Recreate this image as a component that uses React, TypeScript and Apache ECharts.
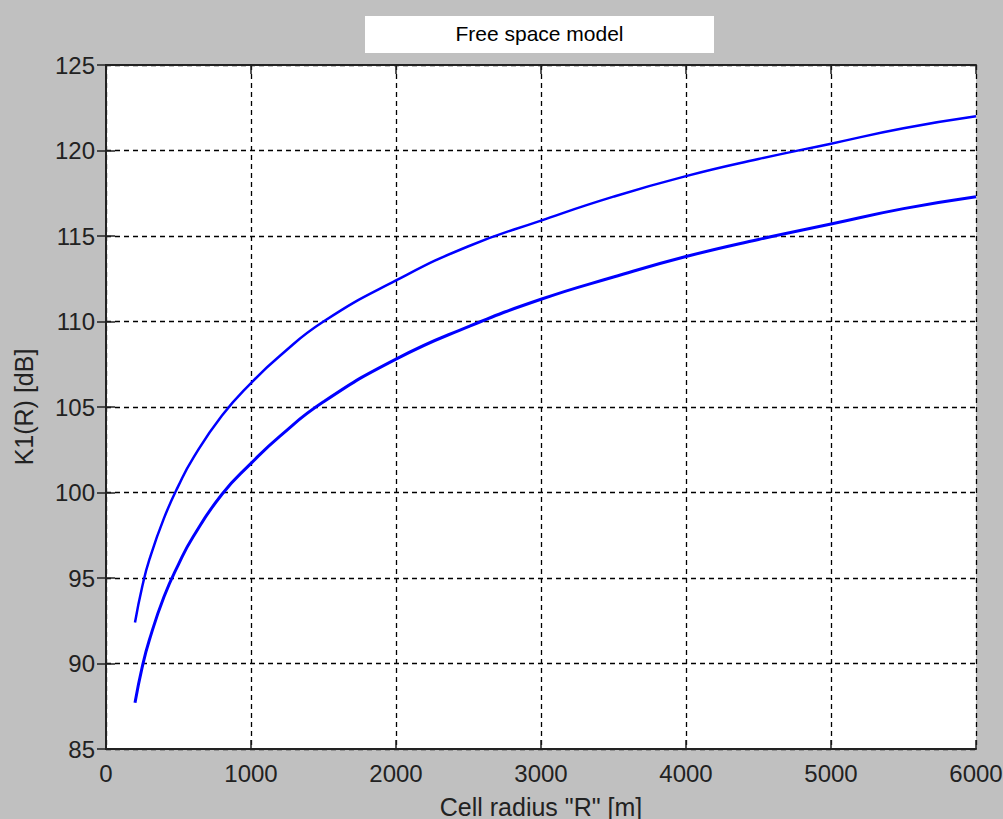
import React, { useEffect, useRef } from "react";
import * as echarts from "echarts";

const radius = [200, 250, 300, 400, 500, 600, 800, 1000, 1200, 1500, 2000, 2500, 3000, 3500, 4000, 4500, 5000, 5500, 6000];
const upperLoss = [92.4, 94.5, 96.1, 98.5, 100.4, 102.0, 104.5, 106.4, 108.0, 110.0, 112.4, 114.4, 115.9, 117.3, 118.5, 119.5, 120.4, 121.3, 122.0];
const lowerLoss = [87.7, 89.8, 91.4, 93.9, 95.8, 97.4, 99.9, 101.7, 103.3, 105.3, 107.8, 109.7, 111.3, 112.6, 113.8, 114.8, 115.7, 116.6, 117.3];

const titleText = "Free space model";
const xName = 'Cell radius "R" [m]';
const yName = "K1(R) [dB]";

const FONT = "'Liberation Sans', Arial, sans-serif";

export default function App() {
  const ref = useRef<HTMLDivElement>(null);
  useEffect(() => {
    if (!ref.current) return;
    const chart = echarts.init(ref.current, undefined, { renderer: "svg" });
    const axisLine = { show: true, lineStyle: { color: "#222", width: 2 } };
    const tick = { show: true, inside: true, length: 9, lineStyle: { color: "#222", width: 1.5 } };
    const grid = { show: true, lineStyle: { color: "#000", width: 1.3, type: [5, 4] as any } };
    const label = { fontFamily: FONT, fontSize: 24, color: "#222", formatter: (v: number) => String(v) };
    chart.setOption({
      animation: false,
      backgroundColor: "#c0c0c0",
      grid: {
        left: 106, top: 65, right: 27, bottom: 70, show: true, backgroundColor: "#fff", borderWidth: 0,
        containLabel: false, outerBoundsMode: "none",
      },
      graphic: [
        { type: "rect", shape: { x: 365, y: 16, width: 349, height: 37 }, style: { fill: "#fff" }, z: 10 },
        {
          type: "text", x: 539.5, y: 33, z: 11,
          style: { text: titleText, fontFamily: FONT, fontSize: 21, fill: "#000", align: "center", verticalAlign: "middle" },
        },
      ],
      xAxis: [
        {
          type: "value", min: 0, max: 6000, interval: 1000, position: "bottom",
          axisLine, axisTick: tick, splitLine: grid,
          axisLabel: { ...label, margin: 12 },
          name: xName, nameLocation: "middle", nameGap: 45,
          nameTextStyle: { fontFamily: FONT, fontSize: 25, color: "#222" },
        },
        {
          type: "value", min: 0, max: 6000, interval: 1000, position: "top",
          axisLine, axisTick: tick, splitLine: { show: false }, axisLabel: { show: false },
        },
      ],
      yAxis: [
        {
          type: "value", min: 85, max: 125, interval: 5, position: "left",
          axisLine, axisTick: tick, splitLine: grid,
          axisLabel: { ...label, margin: 11 },
          name: yName, nameLocation: "middle", nameGap: 70, nameRotate: 90,
          nameTextStyle: { fontFamily: FONT, fontSize: 25, color: "#222" },
        },
        {
          type: "value", min: 85, max: 125, interval: 5, position: "right",
          axisLine, axisTick: tick, splitLine: { show: false }, axisLabel: { show: false },
        },
      ],
      series: [
        {
          type: "line", xAxisIndex: 0, yAxisIndex: 0, smooth: true, showSymbol: false,
          data: radius.map((r, i) => [r, upperLoss[i]]),
          lineStyle: { color: "#0000ff", width: 2.5 }, z: 5,
        },
        {
          type: "line", xAxisIndex: 0, yAxisIndex: 0, smooth: true, showSymbol: false,
          data: radius.map((r, i) => [r, lowerLoss[i]]),
          lineStyle: { color: "#0000ff", width: 3 }, z: 5,
        },
      ],
    });
    return () => chart.dispose();
  }, []);
  return <div ref={ref} style={{ position: "fixed", left: 0, top: 0, width: 1003, height: 819 }} />;
}
